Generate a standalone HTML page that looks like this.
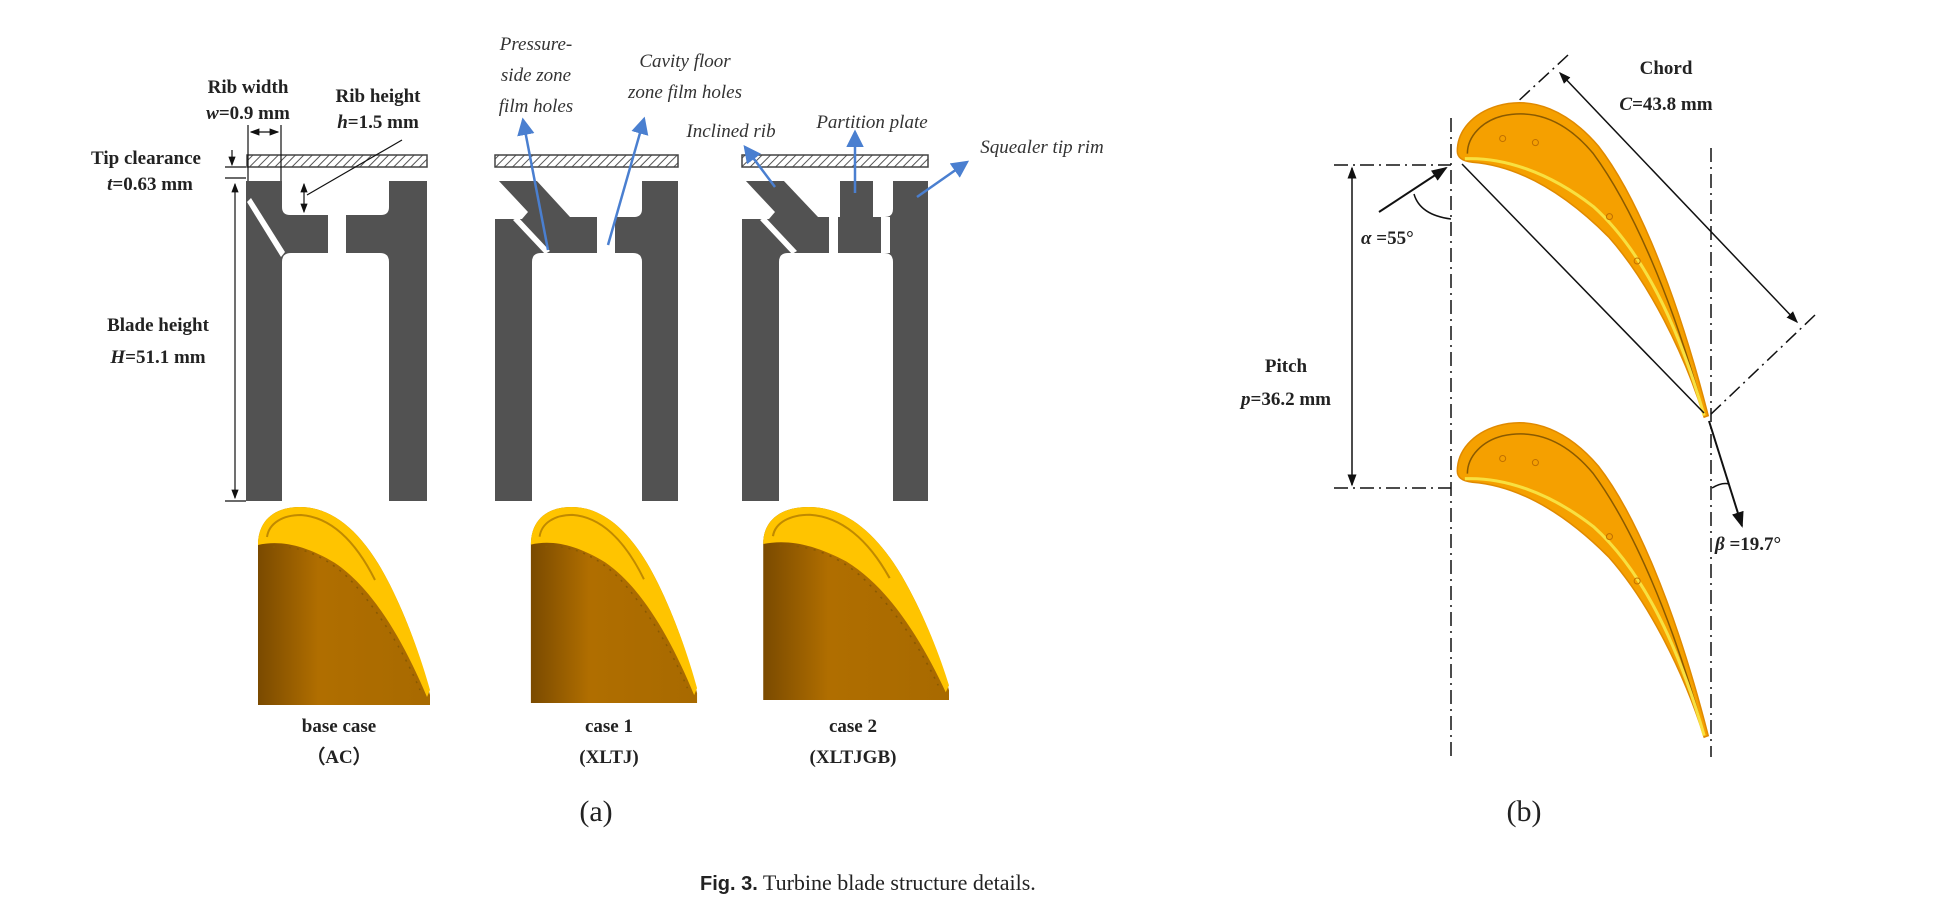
<!DOCTYPE html>
<html><head><meta charset="utf-8"><style>
html,body{margin:0;padding:0;background:#fff;}
svg{display:block;}
.lb{font-family:"Liberation Serif",serif;font-weight:bold;font-size:19px;fill:#222;}
.it{font-family:"Liberation Serif",serif;font-style:italic;font-size:19px;fill:#333;}
</style></head><body>
<svg width="1940" height="921" viewBox="0 0 1940 921" xmlns="http://www.w3.org/2000/svg">
<defs>
<pattern id="hatch" width="6" height="6" patternUnits="userSpaceOnUse" patternTransform="rotate(45)">
<rect width="6" height="6" fill="#fff"/><line x1="0" y1="0" x2="0" y2="6" stroke="#555" stroke-width="2"/></pattern>
<marker id="ah" markerWidth="8" markerHeight="8" refX="7" refY="4" orient="auto"><path d="M0,1 L8,4 L0,7 Z" fill="#111"/></marker>
<marker id="ahb" markerWidth="7" markerHeight="7" refX="6" refY="3.5" orient="auto"><path d="M0,0 L7,3.5 L0,7 Z" fill="#4a7fd0"/></marker>
<marker id="ahs" markerWidth="8" markerHeight="8" refX="7" refY="4" orient="auto-start-reverse"><path d="M0,1 L8,4 L0,7 Z" fill="#111"/></marker>
<linearGradient id="bg3d" x1="0" x2="1" y1="0" y2="0"><stop offset="0" stop-color="#7a4a00"/><stop offset="0.35" stop-color="#b06e00"/><stop offset="1" stop-color="#a86a00"/></linearGradient>
<g id="blade3d">
<path d="M3,40 C3,15 20,2 45,2 C80,2 110,30 135,80 C155,120 168,160 175,190 L175,200 L3,200 Z" fill="url(#bg3d)"/>
<path d="M3,40 C3,15 20,2 45,2 C80,2 110,30 135,80 C155,120 168,160 175,185 L172,192 C150,140 120,85 80,58 C50,40 25,35 3,40 Z" fill="#ffc400"/>
<path d="M12,32 C14,18 28,10 46,10 C75,12 100,35 120,75" fill="none" stroke="#c08a00" stroke-width="2"/>
<path d="M18,42 C45,40 75,52 100,80 C130,115 150,150 165,185" fill="none" stroke="#8a5a00" stroke-width="1.5" stroke-dasharray="2 6"/>
</g>
<g id="airfoil">
<path d="M610,300 C610,260 640,225 690,210 C760,190 830,220 890,290 C960,380 1040,560 1108,825 L1100,828 C1060,700 990,560 910,470 C830,390 740,330 640,322 C620,320 610,312 610,300 Z" fill="#f5a000" stroke="#e08a00" stroke-width="3"/>
<path d="M630,305 C630,270 660,240 700,230 C770,215 830,245 880,305 C950,400 1030,570 1098,815" fill="none" stroke="#8a5a00" stroke-width="3"/>
<path d="M625,315 C700,312 790,340 880,410 C980,500 1050,650 1100,825" fill="none" stroke="#f8e040" stroke-width="6"/>
<circle cx="700" cy="275" r="6" fill="none" stroke="#c07000" stroke-width="2"/>
<circle cx="765" cy="283" r="6" fill="none" stroke="#c07000" stroke-width="2"/>
<circle cx="912" cy="430" r="6" fill="none" stroke="#c07000" stroke-width="2"/>
<circle cx="967" cy="518" r="6" fill="none" stroke="#c07000" stroke-width="2"/>
</g>
</defs>

<!-- Panel (a) cross sections -->
<g>
<rect x="247" y="155" width="180" height="12" fill="url(#hatch)" stroke="#444" stroke-width="1.5"/>
<rect x="246" y="181" width="181" height="320" fill="#525252"/>
<path d="M282,181 L389,181 L389,207 Q389,215 381,215 L290,215 Q282,215 282,207 Z" fill="#fff"/>
<path d="M282,501 L282,262 Q282,253 291,253 L380,253 Q389,253 389,262 L389,501 Z" fill="#fff"/>
<polygon points="247,202 251,198 285,252 281,257" fill="#fff"/>
<rect x="328" y="215" width="18" height="38" fill="#fff"/>
</g>
<g>
<rect x="495" y="155" width="183" height="12" fill="url(#hatch)" stroke="#444" stroke-width="1.5"/>
<rect x="495" y="181" width="183" height="320" fill="#525252"/>
<polygon points="490,180 498,180 528,212 522,219 494,219" fill="#fff"/>
<path d="M536,180 L642,180 L642,209 Q642,217 634,217 L570,217 Z" fill="#fff"/>
<path d="M532,501 L532,262 Q532,253 541,253 L633,253 Q642,253 642,262 L642,501 Z" fill="#fff"/>
<polygon points="513,220 518,217 550,251 545,254" fill="#fff"/>
<rect x="597" y="217" width="18" height="36" fill="#fff"/>
</g>
<g>
<rect x="742" y="155" width="186" height="12" fill="url(#hatch)" stroke="#444" stroke-width="1.5"/>
<rect x="742" y="181" width="186" height="320" fill="#525252"/>
<polygon points="737,180 745,180 775,212 769,219 741,219" fill="#fff"/>
<path d="M783,180 L840,180 L840,217 L818,217 Z" fill="#fff"/>
<path d="M873,180 L893,180 L893,209 Q893,217 885,217 L873,217 Z" fill="#fff"/>
<path d="M779,501 L779,262 Q779,253 788,253 L884,253 Q893,253 893,262 L893,501 Z" fill="#fff"/>
<polygon points="760,220 765,217 797,251 792,254" fill="#fff"/>
<rect x="829" y="217" width="9" height="36" fill="#fff"/>
<rect x="881" y="217" width="9" height="36" fill="#fff"/>
</g>

<!-- dimension lines -->
<g stroke="#111" stroke-width="1.2" fill="none">
<line x1="248" y1="125" x2="248" y2="181"/><line x1="281" y1="125" x2="281" y2="181"/>
<line x1="251" y1="132" x2="278" y2="132" marker-start="url(#ahs)" marker-end="url(#ahs)"/>
<line x1="225" y1="167" x2="246" y2="167"/><line x1="225" y1="178" x2="246" y2="178"/>
<line x1="232" y1="150" x2="232" y2="165" marker-end="url(#ah)"/>
<line x1="235" y1="184" x2="235" y2="498" marker-start="url(#ahs)" marker-end="url(#ahs)"/>
<line x1="225" y1="501" x2="246" y2="501"/>
<line x1="304" y1="184" x2="304" y2="212" marker-start="url(#ahs)" marker-end="url(#ahs)"/>
<line x1="402" y1="140" x2="307" y2="195"/>
</g>
<g class="lb">
<text x="248" y="93" text-anchor="middle">Rib width</text>
<text x="248" y="119" text-anchor="middle"><tspan font-style="italic">w</tspan>=0.9 mm</text>
<text x="378" y="102" text-anchor="middle">Rib height</text>
<text x="378" y="128" text-anchor="middle"><tspan font-style="italic">h</tspan>=1.5 mm</text>
<text x="146" y="164" text-anchor="middle">Tip clearance</text>
<text x="150" y="190" text-anchor="middle"><tspan font-style="italic">t</tspan>=0.63 mm</text>
<text x="158" y="331" text-anchor="middle">Blade height</text>
<text x="158" y="363" text-anchor="middle"><tspan font-style="italic">H</tspan>=51.1 mm</text>
</g>
<g stroke="#4a7fd0" stroke-width="2.5" fill="none">
<line x1="548" y1="250" x2="523" y2="120" marker-end="url(#ahb)"/>
<line x1="608" y1="245" x2="644" y2="119" marker-end="url(#ahb)"/>
<line x1="775" y1="187" x2="745" y2="147" marker-end="url(#ahb)"/>
<line x1="855" y1="193" x2="855" y2="132" marker-end="url(#ahb)"/>
<line x1="917" y1="197" x2="967" y2="162" marker-end="url(#ahb)"/>
</g>
<g class="it">
<text x="536" y="50" text-anchor="middle">Pressure-</text>
<text x="536" y="81" text-anchor="middle">side zone</text>
<text x="536" y="112" text-anchor="middle">film holes</text>
<text x="685" y="67" text-anchor="middle">Cavity floor</text>
<text x="685" y="98" text-anchor="middle">zone film holes</text>
<text x="731" y="137" text-anchor="middle">Inclined rib</text>
<text x="872" y="128" text-anchor="middle">Partition plate</text>
<text x="1042" y="153" text-anchor="middle">Squealer tip rim</text>
</g>

<!-- 3D blades -->
<use href="#blade3d" transform="translate(255,505)"/>
<use href="#blade3d" transform="translate(528,505) scale(0.966,0.99)"/>
<use href="#blade3d" transform="translate(760,505) scale(1.08,0.975)"/>
<path d="M820,520 C830,535 850,560 880,580" stroke="#ffc400" stroke-width="6" fill="none"/>
<g class="lb" font-size="20">
<text x="339" y="732" text-anchor="middle">base case</text>
<text x="339" y="763" text-anchor="middle">（AC）</text>
<text x="609" y="732" text-anchor="middle">case 1</text>
<text x="609" y="763" text-anchor="middle">(XLTJ)</text>
<text x="853" y="732" text-anchor="middle">case 2</text>
<text x="853" y="763" text-anchor="middle">(XLTJGB)</text>
</g>
<text x="596" y="821" text-anchor="middle" font-family="Liberation Serif,serif" font-size="30" fill="#222">(a)</text>

<!-- Panel (b) -->
<g stroke="#111" stroke-width="1.5" fill="none">
<line x1="1451" y1="118" x2="1451" y2="761" stroke-dasharray="14 5 2 5"/>
<line x1="1711" y1="148" x2="1711" y2="757" stroke-dasharray="14 5 2 5"/>
<line x1="1334" y1="165" x2="1451" y2="165" stroke-dasharray="14 5 2 5"/>
<line x1="1334" y1="488" x2="1451" y2="488" stroke-dasharray="14 5 2 5"/>
<line x1="1568" y1="55" x2="1513" y2="106" stroke-dasharray="14 5 2 5"/>
<line x1="1815" y1="315" x2="1709" y2="416" stroke-dasharray="14 5 2 5"/>
</g>
<use href="#airfoil" transform="translate(1150,0) scale(0.5038)"/>
<use href="#airfoil" transform="translate(1150,320) scale(0.5038)"/>
<g stroke="#111" stroke-width="1.5" fill="none">
<line x1="1462" y1="164" x2="1704" y2="413"/>
<line x1="1560" y1="73" x2="1797" y2="322" marker-start="url(#ahs)" marker-end="url(#ahs)"/>
<line x1="1352" y1="168" x2="1352" y2="485" marker-start="url(#ahs)" marker-end="url(#ahs)"/>
<line x1="1379" y1="212" x2="1446" y2="168" stroke-width="2" marker-end="url(#ah)"/>
<path d="M1414,194 Q1420,215 1451,219"/>
<line x1="1709" y1="421" x2="1742" y2="526" stroke-width="2" marker-end="url(#ah)"/>
<path d="M1712,488 Q1722,482 1729,484"/>
</g>
<g class="lb" font-size="21">
<text x="1666" y="74" text-anchor="middle">Chord</text>
<text x="1666" y="110" text-anchor="middle"><tspan font-style="italic">C</tspan>=43.8 mm</text>
<text x="1286" y="372" text-anchor="middle">Pitch</text>
<text x="1286" y="405" text-anchor="middle"><tspan font-style="italic">p</tspan>=36.2 mm</text>
<text x="1361" y="244"><tspan font-style="italic">α</tspan> =55°</text>
<text x="1715" y="550"><tspan font-style="italic">β</tspan>  =19.7°</text>
</g>
<text x="1524" y="821" text-anchor="middle" font-family="Liberation Serif,serif" font-size="30" fill="#222">(b)</text>

<text x="700" y="890" font-family="Liberation Serif,serif" font-size="22" fill="#222"><tspan font-family="Liberation Sans,sans-serif" font-weight="bold" font-size="20">Fig. 3.</tspan>  Turbine blade structure details.</text>
</svg>
</body></html>
